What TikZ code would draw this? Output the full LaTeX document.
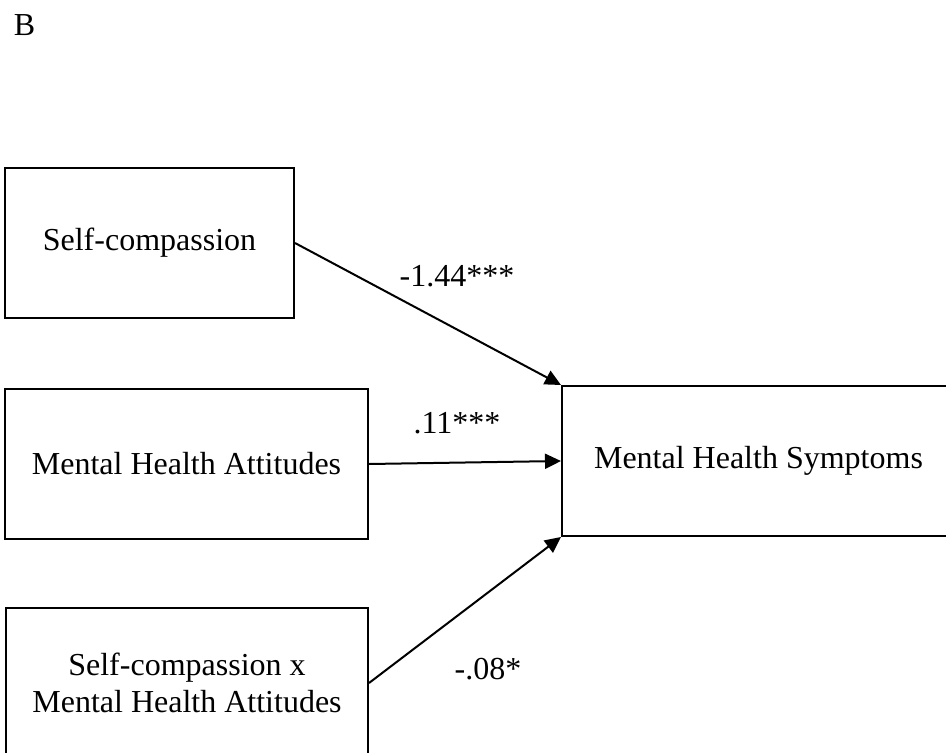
\documentclass[tikz,border=0pt]{standalone}
\usepackage{fontspec}
\setmainfont{Liberation Serif}
\usetikzlibrary{arrows.meta}
\begin{document}
\begin{tikzpicture}[x=1pt,y=-1pt,
  box/.style={draw,line width=2pt,inner sep=0pt,align=center,font=\fontsize{32}{37}\selectfont},
  lbl/.style={inner sep=0pt,font=\fontsize{32}{37}\selectfont},
  conn/.style={line width=2pt,-{Triangle[length=16pt,width=15pt]}}]
\useasboundingbox (0,0) rectangle (946,753);
\clip (0,0) rectangle (946,753);
\node[lbl] (title) at (24.5,25) {B};
\node[box,minimum width=289pt,minimum height=150pt] (sc) at (149.5,243) {Self-compassion};
\node[box,minimum width=363pt,minimum height=150pt] (mha) at (186.5,464) {Mental Health Attitudes};
\node[box,minimum width=362pt,minimum height=150pt] (int) at (187,683) {Self-compassion x\\Mental Health Attitudes};
\node[box,minimum width=393pt,minimum height=150pt] (mhs) at (758.5,461) {Mental Health Symptoms};
\draw[conn] (sc.east) -- (mhs.north west);
\draw[conn] (mha.east) -- (mhs.west);
\draw[conn] (int.east) -- (mhs.south west);
\node[lbl] (l1) at (457,276) {-1.44***};
\node[lbl] (l2) at (457,423) {.11***};
\node[lbl] (l3) at (488,669) {-.08*};
\end{tikzpicture}
\end{document}
